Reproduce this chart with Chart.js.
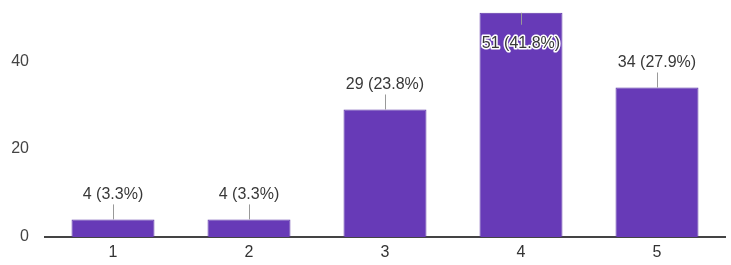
<!DOCTYPE html>
<html>
<head>
<meta charset="utf-8">
<script src="https://cdn.jsdelivr.net/npm/chart.js@4/dist/chart.umd.min.js"></script>
<style>
  html, body { margin: 0; padding: 0; background: #fff; }
  #wrap { width: 731px; height: 265px; }
</style>
</head>
<body>
<div id="wrap"><canvas id="ratingChart"></canvas></div>
<script>
var categories = ['1', '2', '3', '4', '5'];
var counts = [4, 4, 29, 51, 34];
var percents = ['3.3%', '3.3%', '23.8%', '41.8%', '27.9%'];
var yTicks = [0, 20, 40];

// google-forms style labels with a little leader line
var barLabels = {
    id: 'barLabels',
    afterDatasetsDraw: function(chart) {
        var ctx = chart.ctx;
        var area = chart.chartArea;
        var bars = chart.getDatasetMeta(0).data;
        ctx.save();
        ctx.font = '16px "Liberation Sans", Arial, sans-serif';
        ctx.textAlign = 'center';
        ctx.textBaseline = 'middle';
        bars.forEach(function(bar, i) {
            var text = counts[i] + ' (' + percents[i] + ')';
            var inside = bar.y - 34 < area.top;
            var lineEnd = inside ? bar.y + 12 : bar.y - 15;
            var textY = inside ? bar.y + 31 : bar.y - 25;
            ctx.strokeStyle = '#999';
            ctx.lineWidth = 1;
            ctx.beginPath();
            ctx.moveTo(Math.round(bar.x) + 0.5, bar.y);
            ctx.lineTo(Math.round(bar.x) + 0.5, lineEnd);
            ctx.stroke();
            if (inside) {
                ctx.strokeStyle = '#fff';
                ctx.lineWidth = 3;
                ctx.lineJoin = 'round';
                ctx.strokeText(text, bar.x, textY);
            }
            ctx.fillStyle = '#383838';
            ctx.fillText(text, bar.x, textY);
        });
        ctx.restore();
    }
};

var ctx = document.getElementById('ratingChart').getContext('2d');
var ratingChart = new Chart(ctx, {
    type: 'bar',
    data: {
        labels: categories,
        datasets: [{
            data: counts,
            backgroundColor: '#673ab7',
            borderColor: '#5e35a8',
            borderWidth: 1,
            barPercentage: 0.61,
            categoryPercentage: 1
        }]
    },
    options: {
        responsive: true,
        maintainAspectRatio: false,
        animation: false,
        layout: { padding: { top: 0, right: 6, left: 0, bottom: 0 } },
        scales: {
            x: {
                grid: { display: false, drawTicks: false },
                border: { display: true, color: '#444', width: 2 },
                ticks: {
                    color: '#333',
                    padding: 6,
                    font: { size: 16, family: '"Liberation Sans", Arial, sans-serif' }
                },
                afterFit: function(scale) { scale.height = 28; }
            },
            y: {
                min: 0,
                max: 53.9,
                grid: { display: false, drawTicks: false },
                border: { display: false },
                ticks: {
                    color: '#444',
                    padding: 16,
                    font: { size: 16, family: '"Liberation Sans", Arial, sans-serif' }
                },
                afterBuildTicks: function(scale) {
                    scale.ticks = yTicks.map(function(v) { return { value: v }; });
                },
                afterFit: function(scale) {
                    scale.width = 45;
                    scale.paddingTop = 0;
                    scale.paddingBottom = 0;
                }
            }
        },
        plugins: {
            legend: { display: false },
            title: { display: false },
            tooltip: { enabled: false }
        }
    },
    plugins: [barLabels]
});
</script>
</body>
</html>
